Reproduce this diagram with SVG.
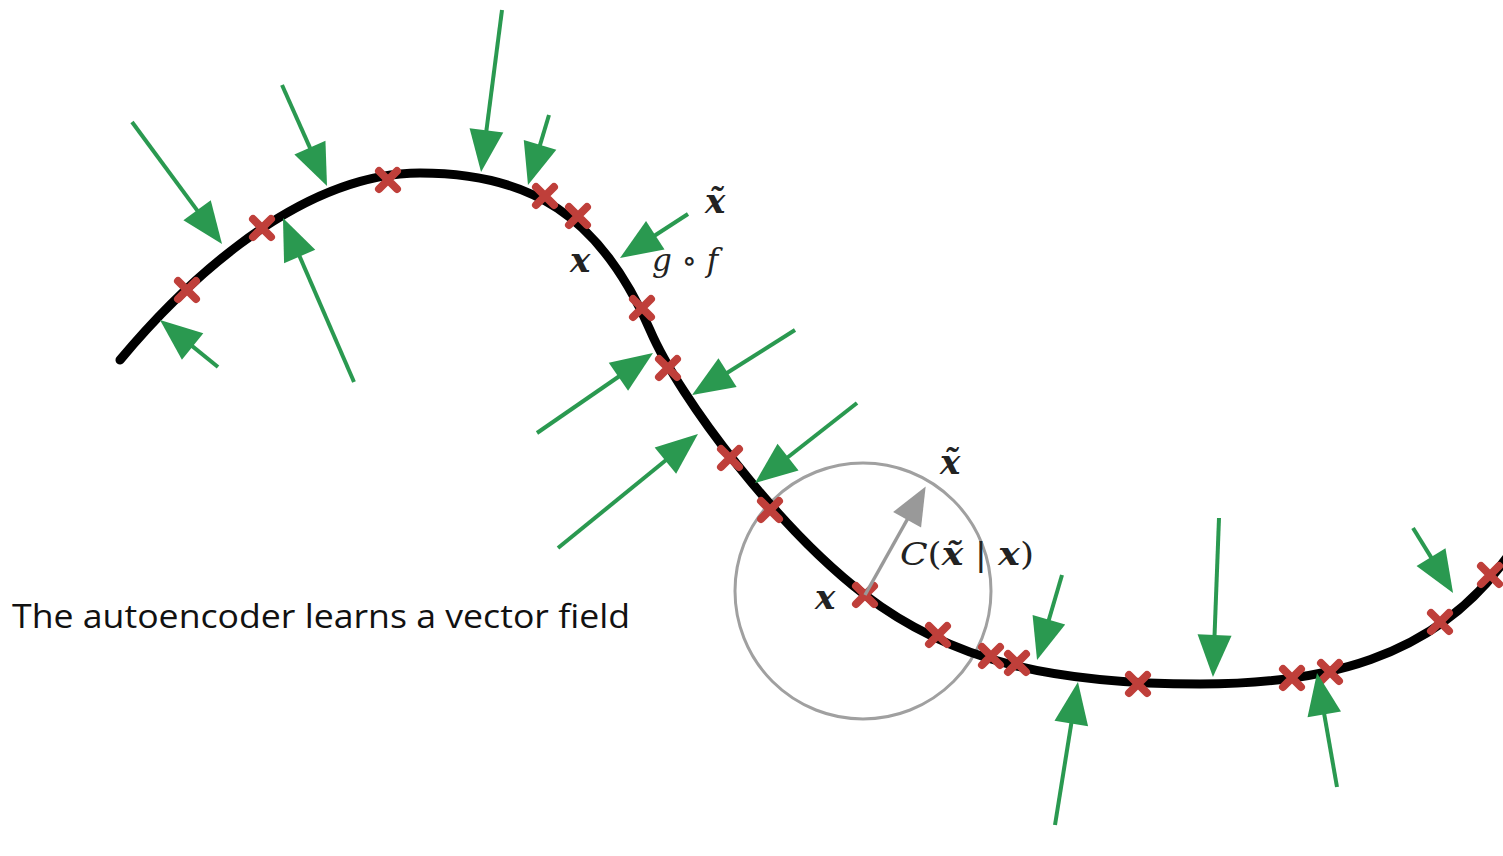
<svg xmlns="http://www.w3.org/2000/svg" width="1503" height="856" viewBox="0 0 1503 856">
<style>
.curve{fill:none;stroke:#000;stroke-width:9;stroke-linecap:round}
.ga{stroke:#2a9950;stroke-width:4;fill:none;marker-end:url(#gh)}
.xm{stroke:#bf3f3a;stroke-width:8;stroke-linecap:round;fill:none}
.math{font-family:"DejaVu Serif","Liberation Serif",serif;fill:#222}
.bi{font-weight:bold;font-style:italic}
.it{font-style:italic}
.cap{font-family:"Open Sans","Liberation Sans",sans-serif;font-size:33px;fill:#111}
</style>
<defs>
<marker id="gh" markerUnits="userSpaceOnUse" markerWidth="50" markerHeight="40" viewBox="-14 -20 50 40" refX="0" refY="0" orient="auto">
<path d="M30,0 L-12,-17 L-12,17 Z" fill="#2a9950"/>
</marker>
<marker id="grh" markerUnits="userSpaceOnUse" markerWidth="50" markerHeight="40" viewBox="-14 -20 50 40" refX="0" refY="0" orient="auto">
<path d="M28,0 L-10,-16 L-10,16 Z" fill="#999"/>
</marker>
<path id="xs" d="M-9,-9 L9,9 M-9,9 L9,-9"/>
</defs>
<rect width="1503" height="856" fill="#fff"/>

<g id="neighbourhood">
<circle cx="863" cy="591" r="128" fill="none" stroke="#a0a0a0" stroke-width="3"/>
</g>

<g id="manifold">
<path class="curve" d="M120,360 C170,300 290,173 420,173 C530,173 600,215 650,330 C680,400 780,530 865,595 C950,660 1050,684 1200,684 C1310,684 1440,665 1515,545"/>
</g>

<g id="samples" class="xm">
<use href="#xs" x="187" y="290"/>
<use href="#xs" x="262" y="228"/>
<use href="#xs" x="388" y="180"/>
<use href="#xs" x="545" y="196"/>
<use href="#xs" x="578" y="216"/>
<use href="#xs" x="642" y="308"/>
<use href="#xs" x="668" y="368"/>
<use href="#xs" x="730" y="458"/>
<use href="#xs" x="770" y="510"/>
<use href="#xs" x="865" y="595"/>
<use href="#xs" x="938" y="635"/>
<use href="#xs" x="991" y="656"/>
<use href="#xs" x="1017" y="663"/>
<use href="#xs" x="1138" y="684"/>
<use href="#xs" x="1292" y="678"/>
<use href="#xs" x="1330" y="672"/>
<use href="#xs" x="1440" y="622"/>
<use href="#xs" x="1490" y="575"/>
</g>

<g id="connectors">
<line class="ga" x1="132" y1="122" x2="204.2" y2="219.9"/>
<line class="ga" x1="282" y1="85" x2="314.8" y2="158.6"/>
<line class="ga" x1="502" y1="10" x2="484.9" y2="142.3"/>
<line class="ga" x1="549" y1="115" x2="536.6" y2="156.3"/>
<line class="ga" x1="688" y1="214" x2="645.2" y2="241.7"/>
<line class="ga" x1="218" y1="367" x2="183.3" y2="338.9"/>
<line class="ga" x1="354" y1="382" x2="294.9" y2="245.5"/>
<line class="ga" x1="537" y1="433" x2="628.3" y2="370"/>
<line class="ga" x1="795" y1="330" x2="717.4" y2="379"/>
<line class="ga" x1="558" y1="548" x2="674.7" y2="453"/>
<line class="ga" x1="857" y1="403" x2="778.6" y2="464.5"/>
<line class="ga" x1="1062" y1="575" x2="1045.5" y2="631.2"/>
<line class="ga" x1="1219" y1="518" x2="1214.1" y2="647"/>
<line class="ga" x1="1055" y1="825" x2="1073.2" y2="711.6"/>
<line class="ga" x1="1337" y1="787" x2="1322.2" y2="702.6"/>
<line class="ga" x1="1413" y1="528" x2="1437.3" y2="567.4"/>
<line x1="865" y1="595" x2="912" y2="511" stroke="#999" stroke-width="3.5" marker-end="url(#grh)"/>
</g>

<g id="label-top" class="math">
<text x="705" y="213" font-size="34" class="bi">x&#x303;</text>
<text x="570" y="272" font-size="34" class="bi">x</text>
<text x="652" y="271" font-size="31" class="it">g <tspan font-style="normal">∘</tspan> f</text>
</g>

<g id="label-circle" class="math">
<text x="940" y="474" font-size="34" class="bi">x&#x303;</text>
<text x="815" y="609" font-size="34" class="bi">x</text>
<text x="900" y="565" font-size="32" textLength="134" lengthAdjust="spacingAndGlyphs"><tspan class="it">C</tspan>(<tspan class="bi">x&#x303;</tspan> | <tspan class="bi">x</tspan>)</text>
</g>

<g id="caption">
<text class="cap" x="12" y="628" textLength="618" lengthAdjust="spacingAndGlyphs">The autoencoder learns a vector field</text>
</g>
</svg>
